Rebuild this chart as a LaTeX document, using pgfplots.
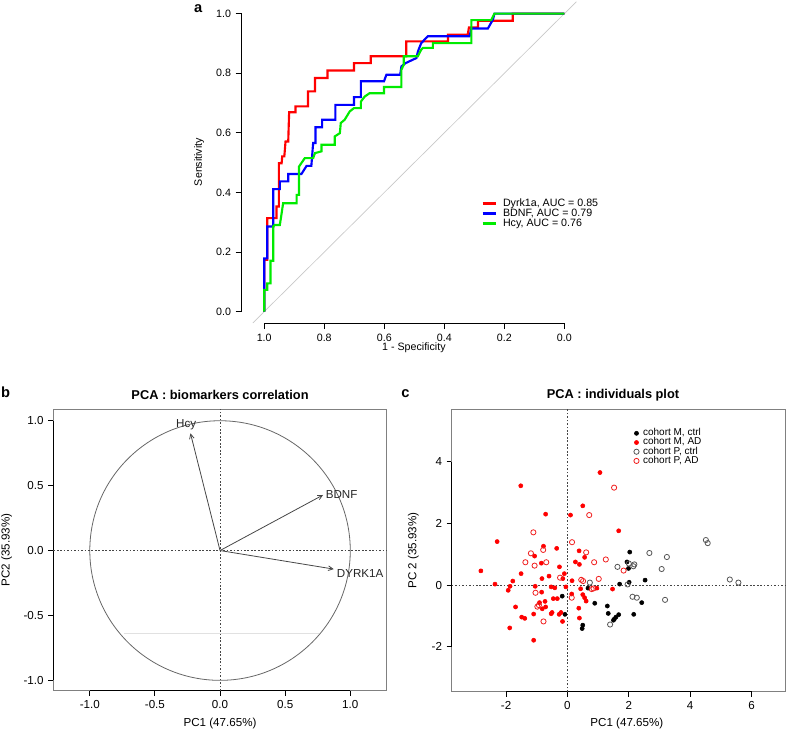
\documentclass[border=0pt]{standalone}
\usepackage{fontspec}
\setmainfont{Liberation Sans}
\usepackage{pgfplots}
\pgfplotsset{compat=1.18}
\usetikzlibrary{arrows.meta}
\definecolor{boxgray}{RGB}{128,128,128}
\definecolor{dotgray}{RGB}{70,70,70}
\definecolor{diaggray}{RGB}{200,200,200}
\definecolor{chordgray}{RGB}{225,225,225}
\definecolor{rocgreen}{RGB}{0,235,0}
\definecolor{ptgray}{RGB}{85,85,85}
\definecolor{ptred}{RGB}{240,30,30}
\begin{document}
\begin{tikzpicture}
\path[use as bounding box] (0pt,0pt) rectangle (590.25pt,-549.75pt);
% ================= panel a =================
\begin{axis}[
  at={(181.28pt,-242.25pt)}, anchor=south west,
  scale only axis, width=251.25pt, height=240.98pt,
  x dir=reverse,
  xmin=-0.041, xmax=1.075, ymin=-0.038, ymax=1.04,
  clip=false,
  axis line style={draw=none},
  xtick pos=bottom, ytick pos=left,
  tick align=outside, major tick length=4.5pt,
  tick style={black, line width=0.75pt},
  xtick={0,0.2,0.4,0.6,0.8,1}, ytick={0,0.2,0.4,0.6,0.8,1},
  /pgf/number format/fixed, /pgf/number format/fixed zerofill, /pgf/number format/precision=1,
  /pgf/number format/assume math mode=true,
  ticklabel style={font=\fontsize{8}{9}\selectfont},
  xlabel={1 - Specificity}, ylabel={Sensitivity},
  label style={font=\fontsize{8}{9}\selectfont},
  xlabel style={at={(axis description cs:0.514,-0.078)}, anchor=center},
  ylabel style={at={(axis description cs:-0.127,0.501)}, anchor=center},
  legend style={at={(0.716,0.3875)}, anchor=north west, draw=none, fill=none,
    inner sep=0pt, outer sep=0pt, column sep=4.5pt, row sep=0pt,
    font=\fontsize{8}{9}\selectfont,
    nodes={inner sep=0pt, text height=5.9pt, text depth=1.6pt}},
  legend cell align=left,
  legend image code/.code={\draw[#1] (0pt,0pt) -- (10pt,0pt);},
]
\addplot[diaggray, line width=0.5pt, forget plot] coordinates {(1.038,-0.038) (-0.04,1.04)};
\draw[black, line width=0.75pt] (axis cs:1.075,0) -- (axis cs:1.075,1);
\draw[black, line width=0.75pt] (axis cs:1,-0.038) -- (axis cs:0,-0.038);
\addplot[red, line width=1.6pt] coordinates {
(1,0)(1,0.174)(0.990,0.174)(0.990,0.314)(0.959,0.314)(0.959,0.353)(0.951,0.353)(0.951,0.498)
(0.942,0.498)(0.940,0.521)(0.933,0.521)(0.929,0.571)(0.920,0.571)(0.917,0.669)(0.896,0.669)
(0.896,0.689)(0.854,0.689)(0.854,0.739)(0.831,0.739)(0.831,0.784)(0.789,0.784)(0.789,0.809)
(0.701,0.809)(0.701,0.834)(0.645,0.834)(0.645,0.857)(0.527,0.857)(0.527,0.907)(0.388,0.907)
(0.388,0.929)(0.322,0.929)(0.318,0.954)(0.288,0.954)(0.288,0.976)(0.172,0.976)(0.172,1)(0,1)};
\addlegendentry{Dyrk1a, AUC = 0.85}
\addplot[blue, line width=1.6pt] coordinates {
(1,0)(1,0.084)(1,0.179)(0.990,0.179)(0.990,0.286)(0.970,0.286)(0.970,0.411)(0.948,0.411)
(0.948,0.437)(0.920,0.437)(0.920,0.462)(0.876,0.462)(0.859,0.489)(0.843,0.489)(0.837,0.566)
(0.829,0.566)(0.829,0.619)(0.807,0.619)(0.807,0.644)(0.763,0.644)(0.763,0.694)(0.701,0.694)
(0.701,0.720)(0.678,0.720)(0.678,0.773)(0.601,0.773)(0.593,0.795)(0.547,0.795)(0.543,0.823)
(0.529,0.834)(0.493,0.851)(0.488,0.873)(0.477,0.901)(0.455,0.924)(0.316,0.924)(0.310,0.950)
(0.255,0.950)(0.238,0.980)(0.233,1)(0,1)};
\addlegendentry{BDNF, AUC = 0.79}
\addplot[rocgreen, line width=1.6pt] coordinates {
(1,0)(1,0.073)(0.990,0.073)(0.990,0.095)(0.979,0.095)(0.979,0.171)(0.970,0.171)(0.970,0.286)
(0.965,0.291)(0.948,0.291)(0.942,0.330)(0.937,0.364)(0.892,0.364)(0.892,0.392)(0.884,0.392)
(0.884,0.487)(0.865,0.515)(0.837,0.515)(0.831,0.532)(0.809,0.538)(0.809,0.560)(0.765,0.560)
(0.765,0.588)(0.748,0.599)(0.745,0.633)(0.732,0.644)(0.715,0.672)(0.701,0.683)(0.678,0.683)
(0.678,0.705)(0.665,0.722)(0.649,0.733)(0.601,0.733)(0.601,0.754)(0.543,0.754)(0.543,0.812)
(0.535,0.829)(0.535,0.857)(0.488,0.857)(0.477,0.879)(0.471,0.885)(0.438,0.885)(0.438,0.901)
(0.310,0.901)(0.310,0.978)(0.244,0.978)(0.233,1)(0,1)};
\addlegendentry{Hcy, AUC = 0.76}
\end{axis}
% ================= panel b =================
\begin{axis}[
  at={(40pt,-518.03pt)}, anchor=south west,
  scale only axis, width=250.05pt, height=211.05pt,
  xmin=-1.28, xmax=1.28, ymin=-1.08, ymax=1.088,
  clip=false,
  axis line style={boxgray, line width=0.75pt},
  tick pos=left, tick align=outside, major tick length=3.75pt,
  tick style={black, line width=0.75pt},
  xtick={-1,-0.5,0,0.5,1}, ytick={-1,-0.5,0,0.5,1},
  /pgf/number format/fixed, /pgf/number format/fixed zerofill, /pgf/number format/precision=1,
  /pgf/number format/assume math mode=true,
  ticklabel style={font=\fontsize{8.7}{10}\selectfont},
  xlabel={PC1 (47.65\%)}, ylabel={PC2 (35.93\%)},
  label style={font=\fontsize{8.7}{10}\selectfont},
  xlabel style={at={(axis description cs:0.5,-0.115)}, anchor=center},
  ylabel style={at={(axis description cs:-0.140,0.5)}, anchor=center},
  title={PCA : biomarkers correlation},
  title style={at={(axis description cs:0.5,1.024)}, anchor=center, yshift=0pt, font=\bfseries\fontsize{9.6}{11}\selectfont},
]
\draw[black, line width=0.75pt] (axis cs:-1.28,-1) -- (axis cs:-1.28,1);
\draw[black, line width=0.75pt] (axis cs:-1,-1.08) -- (axis cs:1,-1.08);
\addplot[chordgray, line width=0.5pt] coordinates {(-0.74,-0.635) (0.757,-0.635)};
\draw[boxgray!80!black, line width=0.6pt] (axis cs:0,0) ellipse [x radius=1, y radius=1];
\addplot[dotgray, line width=0.6pt, dash pattern=on 1.3pt off 1.3pt] coordinates {(0,-1.08) (0,1.088)};
\addplot[dotgray, line width=0.6pt, dash pattern=on 1.3pt off 1.3pt] coordinates {(-1.28,0) (1.28,0)};
\addplot[dotgray, line width=0.6pt, -{Straight Barb[length=3.5pt,width=3.5pt]}] coordinates {(0,0) (-0.227,0.903)};
\addplot[dotgray, line width=0.6pt, -{Straight Barb[length=3.5pt,width=3.5pt]}] coordinates {(0,0) (0.791,0.428)};
\addplot[dotgray, line width=0.6pt, -{Straight Barb[length=3.5pt,width=3.5pt]}] coordinates {(0,0) (0.873,-0.143)};
\node[font=\fontsize{8.7}{10}\selectfont, text=black!85] at (axis cs:-0.26,0.967) {Hcy};
\node[font=\fontsize{8.7}{10}\selectfont, text=black!85, anchor=west, inner sep=0pt] at (axis cs:0.81,0.43) {BDNF};
\node[font=\fontsize{8.7}{10}\selectfont, text=black!85, anchor=west, inner sep=0pt] at (axis cs:0.896,-0.175) {DYRK1A};
\end{axis}
% ================= panel c =================
\begin{axis}[
  at={(338.78pt,-518.78pt)}, anchor=south west,
  scale only axis, width=250.7pt, height=211.8pt,
  xmin=-3.77, xmax=7.12, ymin=-3.46, ymax=5.70,
  clip=false,
  axis line style={boxgray, line width=0.75pt},
  tick pos=left, tick align=outside, major tick length=3.75pt,
  tick style={black, line width=0.75pt},
  xtick={-2,0,2,4,6}, ytick={-2,0,2,4},
  /pgf/number format/assume math mode=true,
  ticklabel style={font=\fontsize{8.7}{10}\selectfont},
  xlabel={PC1 (47.65\%)}, ylabel={PC 2 (35.93\%)},
  label style={font=\fontsize{8.7}{10}\selectfont},
  xlabel style={at={(axis description cs:0.524,-0.111)}, anchor=center},
  ylabel style={at={(axis description cs:-0.115,0.5)}, anchor=center},
  title={PCA : individuals plot},
  title style={at={(axis description cs:0.4825,1.021)}, anchor=center, yshift=0pt, font=\bfseries\fontsize{9.6}{11}\selectfont},
  legend style={at={(0.545,0.9313)}, anchor=north west, draw=none, fill=none,
    inner sep=0pt, outer sep=0pt, column sep=3pt, row sep=0pt,
    font=\fontsize{7.5}{8.5}\selectfont,
    nodes={inner sep=0pt, text height=5.3pt, text depth=1.6pt}},
  legend cell align=left,
  legend image code/.code={\draw[#1] plot coordinates {(0pt,0pt)};},
]
\draw[black, line width=0.75pt] (axis cs:-3.77,-2) -- (axis cs:-3.77,4);
\draw[black, line width=0.75pt] (axis cs:-2,-3.46) -- (axis cs:6,-3.46);
\addplot[dotgray, line width=0.6pt, dash pattern=on 1.3pt off 1.3pt, forget plot] coordinates {(0,-3.46) (0,5.70)};
\addplot[dotgray, line width=0.6pt, dash pattern=on 1.3pt off 1.3pt, forget plot] coordinates {(-3.77,0) (7.12,0)};
\addplot[only marks, mark=*, mark size=1.55pt, black] coordinates {
(2.03,1.07)(1.94,0.75)(1.99,0.54)(1.70,0.03)(2.01,0.09)(2.53,0.16)(2.42,-0.57)(2.16,-0.95)
(1.67,-0.96)(1.58,-1.04)(1.53,-1.10)(1.50,-1.14)(1.33,-0.92)(1.30,-0.68)(0.89,-0.59)(0.67,-0.10)
(-0.17,-0.36)(-0.08,-0.95)(0.50,-1.30)(0.48,-1.41)};
\addlegendentry{cohort M, ctrl}
\addplot[only marks, mark=*, mark size=1.55pt, red] coordinates {
(1.06,3.65)(-1.52,3.22)(0.50,2.57)(0.10,2.27)(-0.71,2.30)(1.67,1.76)
(-2.29,1.41)(-0.78,1.26)(-0.35,1.19)(-1.07,0.94)(0.38,1.11)(0.56,0.90)(0.26,0.75)(0.39,0.67)
(-0.85,0.71)(-0.26,0.59)(-2.82,0.46)(-1.51,0.37)(-0.60,0.29)(-0.83,0.21)(-0.10,0.37)(-0.15,0.21)
(0.15,0.14)(-1.78,0.13)(-1.87,-0.04)(-1.93,-0.17)(-2.36,0.03)(-1.05,-0.04)(-0.53,-0.06)(-0.41,-0.09)
(-0.05,-0.06)(0.43,-0.12)(0.96,-0.10)(1.47,-0.13)(-0.84,-0.23)(-0.46,-0.44)(-0.33,-0.44)(-0.73,-0.53)
(-0.91,-0.57)(0.14,-0.29)(0.50,-0.31)(0.56,-0.41)(0.61,-0.52)(-0.71,-0.71)(-0.82,-0.77)(-1.69,-0.71)
(-1.49,-1.04)(-1.39,-1.08)(-1.10,-0.94)(-0.53,-0.93)(-0.50,-0.89)(-0.27,-0.95)(-0.21,-0.89)(-0.16,-1.18)
(0.37,-0.75)(0.39,-1.07)(-1.88,-1.39)(-1.10,-1.79)};
\addlegendentry{cohort M, AD}
\addplot[only marks, mark=o, mark size=1.95pt, ptgray, mark options={line width=0.6pt}] coordinates {
(2.67,1.04)(3.24,0.91)(3.07,0.52)(1.63,0.59)(2.00,0.70)(2.18,0.67)(2.15,0.61)(1.96,0.02)
(2.12,-0.38)(2.26,-0.41)(3.18,-0.48)(5.29,0.18)(5.57,0.08)(4.51,1.46)(4.57,1.36)(1.39,-1.28)(0.73,0.08)};
\addlegendentry{cohort P, ctrl}
\addplot[only marks, mark=o, mark size=1.95pt, ptred, mark options={line width=0.6pt}] coordinates {
(1.52,3.16)(0.71,2.27)(-1.11,1.71)(0.15,1.39)(-1.19,1.03)(-0.79,1.14)(-1.37,0.74)(-1.07,0.63)
(-0.69,0.74)(0.61,1.06)(0.87,0.74)(1.25,0.83)(1.83,0.47)(-0.24,0.24)(0.45,0.17)(0.51,0.13)
(1.02,0.20)(0.79,-0.13)(0.85,-0.11)(-1.04,-0.25)(-0.98,-0.70)(-0.93,-0.65)(-0.78,-1.18)(0.14,-0.41)};
\addlegendentry{cohort P, AD}
\end{axis}
% panel letters
\node[font=\bfseries\fontsize{11}{12}\selectfont] at (148.7pt,-6.5pt) {a};
\node[font=\bfseries\fontsize{11}{12}\selectfont] at (4.2pt,-294pt) {b};
\node[font=\bfseries\fontsize{11}{12}\selectfont] at (304pt,-295pt) {c};
\end{tikzpicture}
\end{document}
